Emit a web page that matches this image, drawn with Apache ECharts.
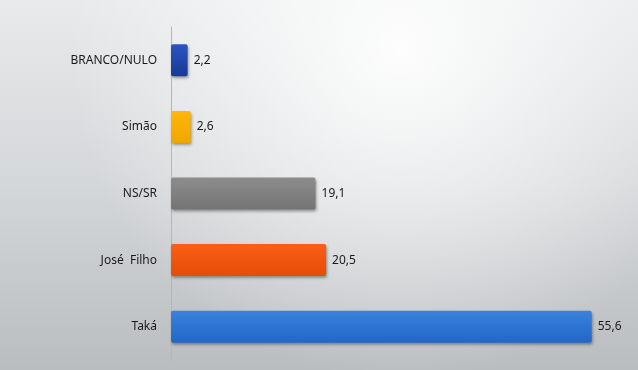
<!DOCTYPE html>
<html>
<head>
<meta charset="utf-8">
<script src="https://cdn.jsdelivr.net/npm/echarts@6/dist/echarts.min.js"></script>
<style>html,body{margin:0;padding:0;}#c{width:638px;height:370px;}</style>
</head>
<body>
<div id="c"></div>
<script>
const categories = ['BRANCO/NULO', 'Simão', 'NS/SR', 'José  Filho', 'Taká'];
const values = [2.2, 2.6, 19.1, 20.5, 55.6];
const topColors = ['#2a55c4', '#ffb60a', '#8c8c8c', '#fa5e16', '#3b82de'];
const bottomColors = ['#1a3894', '#f0a600', '#747474', '#e64c08', '#2266c6'];

const chart = echarts.init(document.getElementById('c'));
chart.setOption({
  animation: false,
  graphic: [
    { type: 'rect', z: -20, silent: true, shape: { x: 0, y: 0, width: 638, height: 370 },
      style: { fill: new echarts.graphic.LinearGradient(0, 0, 0, 370, [
        { offset: 0, color: '#e8eaeb' }, { offset: 0.5, color: '#d4d7d9' }, { offset: 1, color: '#b9bdbf' }
      ], true) } },
    { type: 'rect', z: -19, silent: true, shape: { x: 0, y: 0, width: 638, height: 370 },
      style: { fill: new echarts.graphic.RadialGradient(400, 50, 330, [
        { offset: 0, color: 'rgba(255,255,255,0.92)' }, { offset: 1, color: 'rgba(255,255,255,0)' }
      ], true) } }
  ],
  grid: { left: 171, right: 13, top: 27, height: 333, containLabel: false },
  xAxis: { type: 'value', min: 0, max: 60, show: false, splitLine: { show: false } },
  yAxis: {
    type: 'category', inverse: true, data: categories,
    axisLine: { show: true, lineStyle: { color: '#b4b6b8', width: 1 } },
    axisTick: { show: false },
    axisLabel: { margin: 14, color: '#1a1a1a', fontSize: 12, fontFamily: 'Noto Sans' }
  },
  series: [{
    type: 'bar', barWidth: '48%',
    data: values.map((v, i) => ({
      value: v,
      itemStyle: {
        color: new echarts.graphic.LinearGradient(0, 0, 0, 1, [
          { offset: 0, color: topColors[i] }, { offset: 1, color: bottomColors[i] }
        ]),
        borderRadius: 2,
        shadowColor: 'rgba(0,0,0,0.35)', shadowBlur: 3, shadowOffsetX: 1, shadowOffsetY: 2
      }
    })),
    label: {
      show: true, position: 'right', distance: 6, color: '#1a1a1a', fontSize: 12, fontFamily: 'Noto Sans',
      formatter: p => String(p.value).replace('.', ',')
    }
  }]
});
</script>
</body>
</html>
